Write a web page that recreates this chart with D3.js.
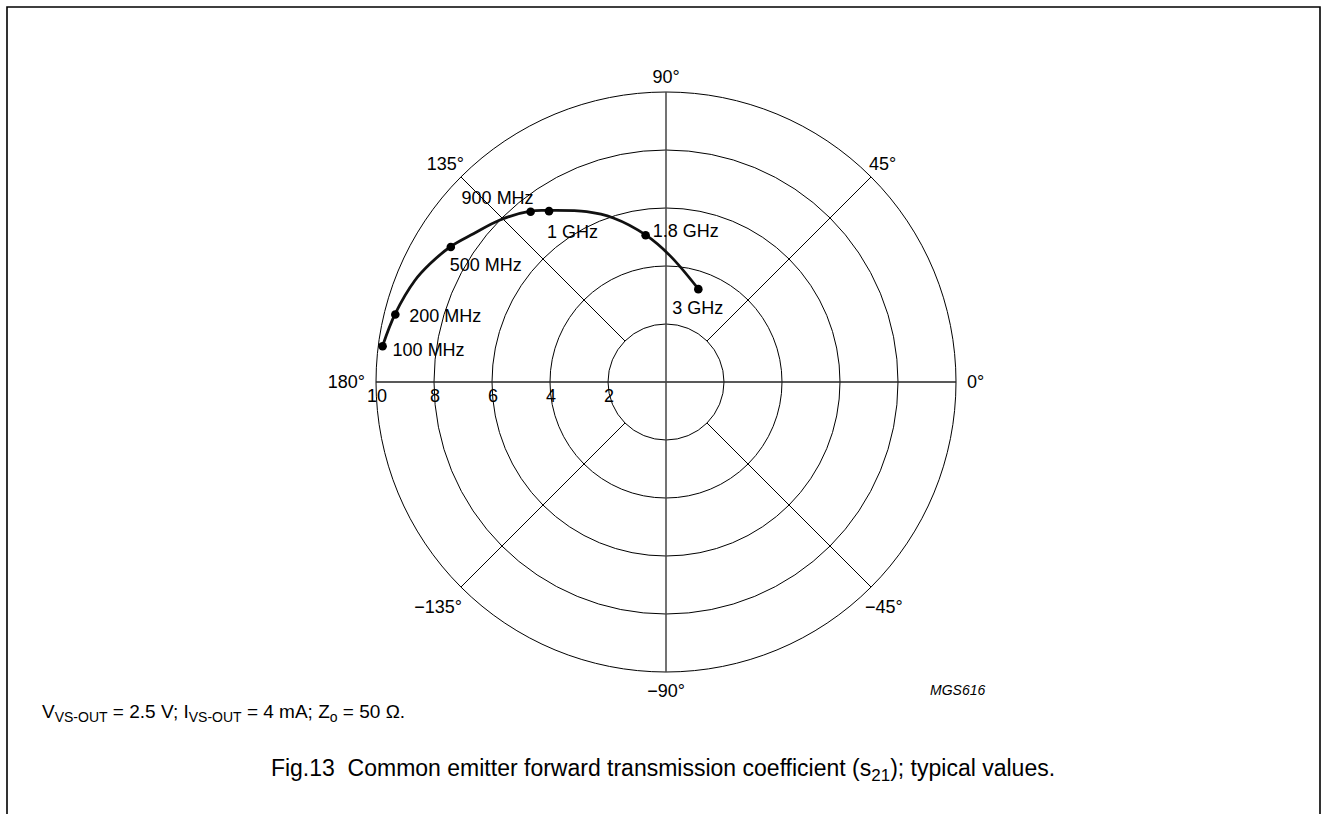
<!DOCTYPE html>
<html>
<head>
<meta charset="utf-8">
<script src="https://cdn.jsdelivr.net/npm/d3@7"></script>
<style>
  html, body { margin: 0; padding: 0; background: #fff; }
  svg { display: block; }
  text { font-family: "Liberation Sans", Arial, sans-serif; fill: #000; }
</style>
</head>
<body>
<svg id="chart" width="1327" height="814"></svg>
<script>
// ---- data ----
const magTicks = [2, 4, 6, 8, 10];
const magTickLabels = ["2", "4", "6", "8", "10"];
const spokeAngles = [45, 135, -135, -45];
const angleLabelAngles = [90, 45, 0, -45, -90, -135, 180, 135];
const angleLabelTexts = ["90°", "45°", "0°", "\u221245°", "\u221290°", "\u2212135°", "180°", "135°"];

// frequency markers on the s21 curve
const freqLabels = ["100 MHz", "200 MHz", "500 MHz", "900 MHz", "1 GHz", "1.8 GHz", "3 GHz"];
const markerMag = [9.85, 9.62, 8.76, 7.50, 7.14, 5.11, 3.39];
const markerAngle = [172.8, 166.0, 147.9, 128.5, 124.4, 97.9, 70.8];

// traced s21 curve (magnitude, angle in degrees)
const traceMag = [9.85, 9.63, 9.34, 9.10, 8.77, 8.38, 8.00, 7.52, 7.16, 6.48, 5.94, 5.12, 4.36, 3.40];
const traceAngle = [172.7, 165.9, 158.0, 153.4, 147.8, 142.4, 135.7, 128.4, 124.3, 115.0, 107.8, 97.9, 88.2, 70.9];

// ---- layout ----
const svg = d3.select("#chart");
const cx = 666, cy = 382, R = 290;
const rScale = d3.scaleLinear().domain([0, 10]).range([0, R]);
const toXY = (m, a) => {
  const t = a * Math.PI / 180;
  return [cx + rScale(m) * Math.cos(t), cy - rScale(m) * Math.sin(t)];
};

// frame (open at the bottom)
svg.append("path")
  .attr("d", `M7,814 L7,7 L1320,7 L1320,814`)
  .attr("fill", "none").attr("stroke", "#000").attr("stroke-width", 1.6);

const g = svg.append("g");

// circles
g.selectAll("circle.grid").data(magTicks).join("circle")
  .attr("class", "grid")
  .attr("cx", cx).attr("cy", cy)
  .attr("r", d => rScale(d))
  .attr("fill", "none").attr("stroke", "#000").attr("stroke-width", 1);

// diagonal spokes from r=2 to r=10
g.selectAll("line.spoke").data(spokeAngles).join("line")
  .attr("class", "spoke")
  .attr("x1", d => toXY(magTicks[0], d)[0]).attr("y1", d => toXY(magTicks[0], d)[1])
  .attr("x2", d => toXY(10, d)[0]).attr("y2", d => toXY(10, d)[1])
  .attr("stroke", "#000").attr("stroke-width", 1);

// main axes through the centre
g.append("line")
  .attr("x1", toXY(10, 180)[0]).attr("y1", cy)
  .attr("x2", toXY(10, 0)[0]).attr("y2", cy)
  .attr("stroke", "#222").attr("stroke-width", 1.3);
g.append("line")
  .attr("x1", cx).attr("y1", toXY(10, 90)[1])
  .attr("x2", cx).attr("y2", toXY(10, -90)[1])
  .attr("stroke", "#444").attr("stroke-width", 1.5);

// magnitude tick labels along the 180° axis
g.selectAll("text.mag").data(magTicks).join("text")
  .attr("class", "mag")
  .attr("x", d => toXY(d, 180)[0] + 1)
  .attr("y", cy + 20)
  .attr("text-anchor", "middle")
  .attr("font-size", 18)
  .text((d, i) => magTickLabels[i]);

// angle labels
const angleLabelPos = {
  "90": {dx: 0, dy: -9, anchor: "middle"},
  "45": {dx: -2, dy: -7, anchor: "start"},
  "0": {dx: 11, dy: 6, anchor: "start"},
  "-45": {dx: -6, dy: 26, anchor: "start"},
  "-90": {dx: 0, dy: 25, anchor: "middle"},
  "-135": {dx: 1, dy: 26, anchor: "end"},
  "180": {dx: -11, dy: 6, anchor: "end"},
  "135": {dx: 3, dy: -7, anchor: "end"}
};
g.selectAll("text.ang").data(angleLabelAngles).join("text")
  .attr("class", "ang")
  .attr("x", d => toXY(10, d)[0] + angleLabelPos[d].dx)
  .attr("y", d => toXY(10, d)[1] + angleLabelPos[d].dy)
  .attr("text-anchor", d => angleLabelPos[d].anchor)
  .attr("font-size", 18)
  .text((d, i) => angleLabelTexts[i]);

// s21 curve
const curvePts = traceMag.map((m, i) => toXY(m, traceAngle[i]));
g.append("path")
  .attr("d", d3.line().curve(d3.curveCatmullRom.alpha(0.5))(curvePts))
  .attr("fill", "none").attr("stroke", "#111").attr("stroke-width", 2.8)
  .attr("stroke-linecap", "round");

// markers
const markerPts = markerMag.map((m, i) => toXY(m, markerAngle[i]));
g.selectAll("circle.mk").data(markerPts).join("circle")
  .attr("class", "mk")
  .attr("cx", d => d[0]).attr("cy", d => d[1]).attr("r", 4.3)
  .attr("fill", "#000");

// marker labels (offsets in px from the marker)
const labelOffsets = [[10, 10], [14, 7], [-1, 24], [-69, -8], [-2, 27], [7, 2], [-26, 25]];
g.selectAll("text.fl").data(freqLabels).join("text")
  .attr("class", "fl")
  .attr("x", (d, i) => markerPts[i][0] + labelOffsets[i][0])
  .attr("y", (d, i) => markerPts[i][1] + labelOffsets[i][1])
  .attr("font-size", 18)
  .text(d => d);

// figure code
svg.append("text")
  .attr("x", 930).attr("y", 695)
  .attr("font-size", 14).attr("font-style", "italic")
  .text("MGS616");

// conditions note
const note = svg.append("text").attr("x", 42).attr("y", 718).attr("font-size", 19);
const sub = (t) => note.append("tspan").attr("font-size", 14).attr("dy", 4).text(t);
const main = (t) => note.append("tspan").attr("font-size", 19).attr("dy", -4).text(t);
note.append("tspan").text("V");
sub("VS-OUT");
main(" = 2.5 V; I");
sub("VS-OUT");
main(" = 4 mA; Z");
sub("o");
main(" = 50 \u03A9.");

// caption
const cap = svg.append("text").attr("x", 663).attr("y", 776)
  .attr("text-anchor", "middle").attr("font-size", 23);
cap.append("tspan").text("Fig.13\u00A0\u00A0Common emitter forward transmission coefficient (s");
cap.append("tspan").attr("font-size", 17).attr("dy", 5).text("21");
cap.append("tspan").attr("dy", -5).text("); typical values.");
</script>
</body>
</html>
